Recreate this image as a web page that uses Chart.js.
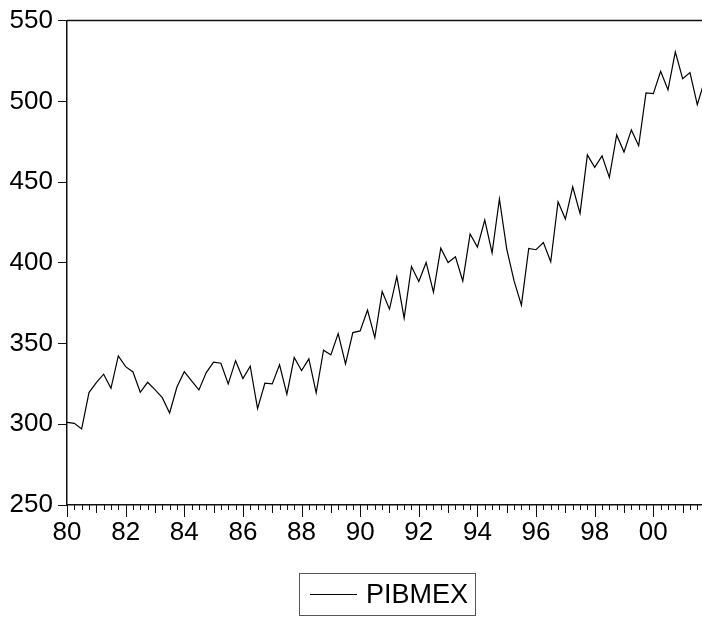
<!DOCTYPE html>
<html>
<head>
<meta charset="utf-8">
<title>PIBMEX</title>
<script src="https://cdn.jsdelivr.net/npm/chart.js@4/dist/chart.umd.min.js"></script>
<style>
  html, body { margin: 0; padding: 0; background: #fff; }
  #wrap { width: 702px; height: 617px; position: relative; }
</style>
</head>
<body>
<div id="wrap"><canvas id="chart"></canvas></div>
<script>
// --- Data: quarterly series, 1980Q1 onwards
var startYear = 1980;
var seriesName = "PIBMEX";
var pibmex = [
  301.2, 300.6, 297.1, 319.6, 325.8, 331.0, 322.3, 342.3,
  335.7, 332.4, 319.8, 326.0, 321.5, 316.5, 307.0, 323.1,
  332.6, 326.8, 321.3, 332.0, 338.4, 337.8, 325.0, 339.4,
  328.3, 336.0, 309.7, 325.4, 325.0, 336.8, 318.6, 341.3,
  333.2, 340.5, 319.5, 345.9, 343.0, 356.2, 337.4, 356.8,
  357.8, 370.7, 353.7, 382.2, 371.3, 391.5, 365.7, 397.7,
  388.4, 400.2, 381.8, 409.1, 400.2, 403.7, 388.7, 417.8,
  409.7, 426.5, 406.2, 439.5, 408.5, 388.8, 373.8, 408.9,
  408.1, 412.6, 400.6, 437.8, 427.1, 447.1, 430.6, 466.8,
  459.1, 466.2, 452.9, 479.2, 468.6, 482.3, 472.5, 505.2,
  504.8, 518.6, 507.1, 530.6, 514.0, 517.8, 498.0, 513.0
];
var xTickYears = [1980, 1982, 1984, 1986, 1988, 1990, 1992, 1994, 1996, 1998, 2000];
var xTickLabels = ["80", "82", "84", "86", "88", "90", "92", "94", "96", "98", "00"];
var yTicks = [250, 300, 350, 400, 450, 500, 550];

(function () {
  "use strict";

  var FONT = "'Liberation Sans', Arial, Helvetica, sans-serif";
  var axisColor = "#111";

  var points = pibmex.map(function (v, i) {
    return { x: startYear + i / 4, y: v };
  });

  // --- Quarterly tick marks, top frame line and boxed legend
  var decorations = {
    id: "decorations",
    afterDraw: function (chart) {
      var ctx = chart.ctx;
      var xs = chart.scales.x;
      var area = chart.chartArea;
      ctx.save();
      ctx.strokeStyle = axisColor;
      ctx.lineWidth = 1;
      for (var q = 0; q < pibmex.length + 4; q++) {
        var yr = startYear + q / 4;
        if (yr > xs.max) break;
        var px = Math.round(xs.getPixelForValue(yr)) + 0.5;
        var len = q % 8 === 0 ? 12 : (q % 4 === 0 ? 8 : 5);
        ctx.beginPath();
        ctx.moveTo(px, area.bottom);
        ctx.lineTo(px, area.bottom + len);
        ctx.stroke();
      }
      // top frame
      ctx.lineWidth = 1.5;
      ctx.beginPath();
      ctx.moveTo(area.left, area.top);
      ctx.lineTo(area.right, area.top);
      ctx.stroke();

      // legend box
      var bx = 299.5, by = 573.5, bw = 176, bh = 42;
      ctx.lineWidth = 1;
      ctx.strokeStyle = "#555";
      ctx.strokeRect(bx, by, bw, bh);
      ctx.strokeStyle = "#000";
      ctx.beginPath();
      ctx.moveTo(310, by + bh / 2);
      ctx.lineTo(357, by + bh / 2);
      ctx.stroke();
      ctx.fillStyle = "#000";
      ctx.font = "27px " + FONT;
      ctx.textBaseline = "middle";
      ctx.textAlign = "left";
      ctx.fillText(seriesName, 366, by + bh / 2 + 1);
      ctx.restore();
    }
  };

  new Chart(document.getElementById("chart"), {
    type: "line",
    data: {
      datasets: [
        {
          label: seriesName,
          data: points,
          borderColor: "#000",
          borderWidth: 1.2,
          pointRadius: 0,
          tension: 0,
          fill: false
        }
      ]
    },
    options: {
      responsive: true,
      maintainAspectRatio: false,
      animation: false,
      layout: { padding: { top: 20, right: 0, left: 0, bottom: 0 } },
      plugins: {
        legend: { display: false },
        tooltip: { enabled: false }
      },
      scales: {
        x: {
          type: "linear",
          min: startYear,
          max: 2001.66,
          afterFit: function (scale) { scale.height = 112; },
          afterBuildTicks: function (scale) {
            scale.ticks = xTickYears.map(function (v) { return { value: v }; });
          },
          ticks: {
            autoSkip: false,
            maxRotation: 0,
            padding: 0,
            color: "#000",
            font: { family: FONT, size: 26 },
            callback: function (v) {
              var k = xTickYears.indexOf(v);
              return k >= 0 ? xTickLabels[k] : null;
            }
          },
          grid: {
            display: true,
            drawOnChartArea: false,
            drawTicks: true,
            tickLength: 12,
            tickColor: "rgba(0,0,0,0)"
          },
          border: { display: true, color: axisColor, width: 1.5 }
        },
        y: {
          min: yTicks[0],
          max: yTicks[yTicks.length - 1],
          afterFit: function (scale) { scale.width = 67; },
          afterBuildTicks: function (scale) {
            scale.ticks = yTicks.map(function (v) { return { value: v }; });
          },
          ticks: {
            padding: 5,
            color: "#000",
            font: { family: FONT, size: 26 }
          },
          grid: {
            display: true,
            drawOnChartArea: false,
            drawTicks: true,
            tickLength: 9,
            tickColor: axisColor
          },
          border: { display: true, color: axisColor, width: 1.5 }
        }
      }
    },
    plugins: [decorations]
  });
})();
</script>
</body>
</html>
